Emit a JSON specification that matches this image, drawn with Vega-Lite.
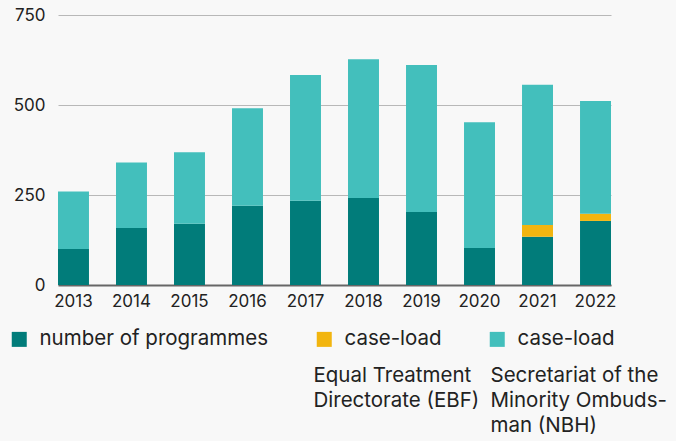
{
  "$schema": "https://vega.github.io/schema/vega-lite/v6.json",
  "width": 553,
  "height": 270,
  "autosize": "none",
  "padding": {"left": 58, "top": 15, "right": 65, "bottom": 156},
  "background": "#f8f8f8",
  "config": {
    "view": {"stroke": null},
    "font": "Inter",
    "axis": {"labelFont": "Inter", "labelColor": "#222222"},
    "legend": {"labelFont": "Inter", "labelColor": "#222222"},
    "style": {"guide-label": {"lineHeight": 25}}
  },
  "data": {
    "values": [
      {"year": "2013", "series": "number of programmes", "ord": 1, "org": "", "value": 100},
      {"year": "2013", "series": "case-load (EBF)", "ord": 2, "org": "Equal Treatment|Directorate (EBF)", "value": 0},
      {"year": "2013", "series": "case-load (NBH)", "ord": 3, "org": "Secretariat of the|Minority Ombuds-|man (NBH)", "value": 160},
      {"year": "2014", "series": "number of programmes", "ord": 1, "org": "", "value": 158},
      {"year": "2014", "series": "case-load (EBF)", "ord": 2, "org": "Equal Treatment|Directorate (EBF)", "value": 0},
      {"year": "2014", "series": "case-load (NBH)", "ord": 3, "org": "Secretariat of the|Minority Ombuds-|man (NBH)", "value": 182},
      {"year": "2015", "series": "number of programmes", "ord": 1, "org": "", "value": 170},
      {"year": "2015", "series": "case-load (EBF)", "ord": 2, "org": "Equal Treatment|Directorate (EBF)", "value": 0},
      {"year": "2015", "series": "case-load (NBH)", "ord": 3, "org": "Secretariat of the|Minority Ombuds-|man (NBH)", "value": 199},
      {"year": "2016", "series": "number of programmes", "ord": 1, "org": "", "value": 220},
      {"year": "2016", "series": "case-load (EBF)", "ord": 2, "org": "Equal Treatment|Directorate (EBF)", "value": 0},
      {"year": "2016", "series": "case-load (NBH)", "ord": 3, "org": "Secretariat of the|Minority Ombuds-|man (NBH)", "value": 271},
      {"year": "2017", "series": "number of programmes", "ord": 1, "org": "", "value": 234},
      {"year": "2017", "series": "case-load (EBF)", "ord": 2, "org": "Equal Treatment|Directorate (EBF)", "value": 0},
      {"year": "2017", "series": "case-load (NBH)", "ord": 3, "org": "Secretariat of the|Minority Ombuds-|man (NBH)", "value": 349},
      {"year": "2018", "series": "number of programmes", "ord": 1, "org": "", "value": 242},
      {"year": "2018", "series": "case-load (EBF)", "ord": 2, "org": "Equal Treatment|Directorate (EBF)", "value": 0},
      {"year": "2018", "series": "case-load (NBH)", "ord": 3, "org": "Secretariat of the|Minority Ombuds-|man (NBH)", "value": 385},
      {"year": "2019", "series": "number of programmes", "ord": 1, "org": "", "value": 203},
      {"year": "2019", "series": "case-load (EBF)", "ord": 2, "org": "Equal Treatment|Directorate (EBF)", "value": 0},
      {"year": "2019", "series": "case-load (NBH)", "ord": 3, "org": "Secretariat of the|Minority Ombuds-|man (NBH)", "value": 408},
      {"year": "2020", "series": "number of programmes", "ord": 1, "org": "", "value": 103},
      {"year": "2020", "series": "case-load (EBF)", "ord": 2, "org": "Equal Treatment|Directorate (EBF)", "value": 0},
      {"year": "2020", "series": "case-load (NBH)", "ord": 3, "org": "Secretariat of the|Minority Ombuds-|man (NBH)", "value": 349},
      {"year": "2021", "series": "number of programmes", "ord": 1, "org": "", "value": 134},
      {"year": "2021", "series": "case-load (EBF)", "ord": 2, "org": "Equal Treatment|Directorate (EBF)", "value": 33},
      {"year": "2021", "series": "case-load (NBH)", "ord": 3, "org": "Secretariat of the|Minority Ombuds-|man (NBH)", "value": 389},
      {"year": "2022", "series": "number of programmes", "ord": 1, "org": "", "value": 178},
      {"year": "2022", "series": "case-load (EBF)", "ord": 2, "org": "Equal Treatment|Directorate (EBF)", "value": 20},
      {"year": "2022", "series": "case-load (NBH)", "ord": 3, "org": "Secretariat of the|Minority Ombuds-|man (NBH)", "value": 313}
    ]
  },
  "encoding": {
    "x": {
      "field": "year",
      "type": "ordinal",
      "scale": {"paddingInner": 0.466, "paddingOuter": 0},
      "axis": {
        "title": null,
        "labelAngle": 0,
        "labelFontSize": 17,
        "labelPadding": 8,
        "ticks": false,
        "domainColor": "#666666",
        "domainWidth": 2,
        "grid": false
      }
    }
  },
  "layer": [
    {
      "mark": {"type": "bar"},
      "encoding": {
        "y": {
          "field": "value",
          "type": "quantitative",
          "stack": "zero",
          "scale": {"domain": [0, 750]},
          "axis": {
            "title": null,
            "values": [0, 250, 500, 750],
            "labelFontSize": 17,
            "labelPadding": 13,
            "ticks": false,
            "domain": false,
            "gridColor": "#b8b8b8",
            "gridWidth": 1
          }
        },
        "color": {
          "field": "series",
          "type": "nominal",
          "scale": {
            "domain": ["number of programmes", "case-load (EBF)", "case-load (NBH)"],
            "range": ["#017c7a", "#f2b50f", "#43bfbc"]
          },
          "legend": {
            "title": null,
            "orient": "none",
            "legendX": -49,
            "legendY": 314,
            "direction": "horizontal",
            "columns": 3,
            "columnPadding": 45,
            "padding": 0,
            "symbolType": "square",
            "symbolSize": 225,
            "symbolStrokeWidth": 0,
            "labelFontSize": 20.5,
            "labelOffset": 10,
            "labelLimit": 400,
            "labelExpr": "datum.label == 'case-load (NBH)' ? '\u00a0case-load' : split(datum.label, ' (')[0]"
          }
        },
        "order": {"field": "ord", "type": "quantitative"}
      }
    },
    {
      "transform": [{"filter": "datum.org != ''"}],
      "mark": {"type": "point", "size": 0, "opacity": 0},
      "encoding": {
        "shape": {
          "field": "org",
          "type": "nominal",
          "legend": {
            "title": null,
            "orient": "none",
            "legendX": 255,
            "legendY": 341,
            "direction": "horizontal",
            "columns": 2,
            "gridAlign": "each",
            "columnPadding": 10,
            "padding": 0,
            "symbolSize": 0,
            "symbolOpacity": 0,
            "symbolStrokeWidth": 0,
            "labelOffset": -20,
            "labelFontSize": 20.5,
            "labelBaseline": "top",
            "labelLimit": 400,
            "labelExpr": "indexof(datum.label, 'EBF') >= 0 ? split(datum.label + '|\u00a0', '|') : split(datum.label, '|')",
            "encode": {"labels": {"update": {"lineHeight": {"value": 25}}}}
          }
        }
      }
    }
  ]
}
